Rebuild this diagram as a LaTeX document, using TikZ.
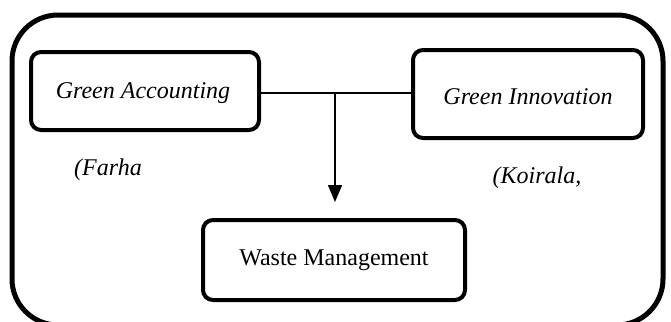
\documentclass[tikz,border=0pt]{standalone}
\usepackage{fontspec}
\setmainfont{Liberation Serif}
\usetikzlibrary{arrows.meta,positioning}

\begin{document}
\begin{tikzpicture}[
                    x=0.5pt, y=-0.5pt,
                    font=\fontsize{12}{14}\selectfont,
                    factor/.style={
                        rectangle,
                        rounded corners=5pt,
                        draw=black,
                        line width=2pt,
                        inner sep=0pt
                    },
                    frame/.style={
                        rectangle,
                        rounded corners=23pt,
                        draw=black,
                        line width=2.5pt,
                        minimum width=325.5pt,
                        minimum height=155pt
                    },
                    cite/.style={
                        font=\fontsize{12}{14}\selectfont\itshape
                    },
                    link/.style={
                        line width=0.75pt
                    },
                    >={Triangle[length=8.5pt,width=7pt]}
                ]
                \useasboundingbox (0,0) rectangle (671,322);
                \node (F) [frame] at (337.5,170) {};

                \node (GA) [factor, minimum width=114pt, minimum height=39pt] at (145,91) {};
                \node at (143,93) {\textit{Green Accounting}};
                \node (GI) [factor, minimum width=115pt, minimum height=44pt] at (528,94) {};
                \node at (528,97) {\textit{Green Innovation}};
                \node (WM) [factor, minimum width=131pt, minimum height=40pt] at (334,260) {Waste Management};

                \node (FA) [cite] at (108,170) {(Farha};
                \node (KO) [cite] at (537,178) {(Koirala,};

                \coordinate (J) at (335,93);
                \coordinate (T) at (335,202);
                \draw [link] (GA.east |- J) -- (GI.west |- J);
                \draw [link, ->] (J) -- (T);
            \end{tikzpicture}
\end{document}
